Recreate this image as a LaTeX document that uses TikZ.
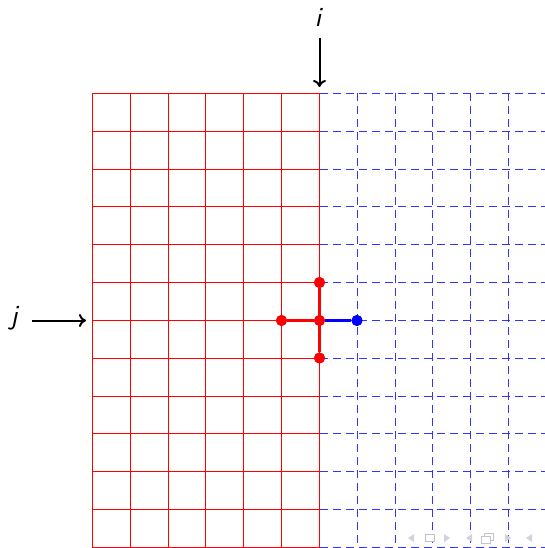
\documentclass[tikz,border=0pt]{standalone}
\usetikzlibrary{arrows.meta}
\begin{document}
\begin{tikzpicture}[x=1bp,y=-1bp,
  redgrid/.style={red,line width=1.4bp},
  bluegrid/.style={blue!80!white,line width=1.4bp,dash pattern=on 8bp off 5bp},
  redpath/.style={red,line width=2.7bp},
  bluepath/.style={blue,line width=2.7bp},
  reddot/.style={circle,fill=red,inner sep=0pt,minimum size=11bp},
  bluedot/.style={circle,fill=blue,inner sep=0pt,minimum size=11bp},
  lbl/.style={font=\fontsize{28}{30}\selectfont\sffamily\itshape,inner sep=0pt},
  arr/.style={-{To[length=7bp,width=13bp]},line width=2bp},
  nav/.style={fill=blue!20!gray!30,draw=none},
  navline/.style={draw=blue!20!gray!40,line width=1bp,fill=white}
]
\useasboundingbox (0,0) rectangle (545,548);
% red grid
\foreach \x in {92,130,168,205,243,281,319}{
  \draw[redgrid] (\x.5,93) -- (\x.5,548);
}
\foreach \y in {93,131,169,206,244,282,320,358,396,433,471,509,547}{
  \draw[redgrid] (92,\y.5) -- (320,\y.5);
}
% blue dashed grid
\foreach \x in {357,395,432,470,508}{
  \draw[bluegrid] (\x.5,93) -- (\x.5,548);
}
\foreach \y in {93,131,169,206,244,282,320,358,396,433,471,509,547}{
  \draw[bluegrid] (320,\y.5) -- (550,\y.5);
}
% dots
\node[reddot] (up) at (319.5,282.5) {};
\node[reddot] (lf) at (281.5,320.5) {};
\node[reddot] (c) at (319.5,320.5) {};
\node[reddot] (dn) at (319.5,358) {};
\node[bluedot] (rt) at (357,320.5) {};
\draw[bluepath] (c) -- (rt);
\draw[redpath] (lf) -- (c);
\draw[redpath] (up) -- (dn);
\node[reddot] at (up) {};
\node[reddot] at (lf) {};
\node[reddot] at (c) {};
\node[reddot] at (dn) {};
\node[bluedot] at (rt) {};
% labels and arrows
\node[lbl] (i) at (318,17) {i};
\coordinate (itop) at (319.5,38);
\coordinate (ibot) at (319.5,87);
\draw[arr] (itop) -- (ibot);
\node[lbl] (j) at (14,318) {j};
\coordinate (jl) at (32,320.5);
\coordinate (jr) at (86,320.5);
\draw[arr] (jl) -- (jr);
% navigation symbols (faint)
\fill[nav] (408,538) -- (414,534) -- (414,542) -- cycle;
\draw[navline] (425.5,534.5) rectangle (434.5,541.5);
\fill[nav] (450,538) -- (444,534) -- (444,542) -- cycle;
\fill[nav] (466,538) -- (472,534) -- (472,542) -- cycle;
\draw[navline] (484.5,533.5) rectangle (493.5,540.5);
\draw[navline] (481.5,536.5) rectangle (490.5,543.5);
\fill[nav] (511,538) -- (505,534) -- (505,542) -- cycle;
\fill[nav] (526,538) -- (532,534) -- (532,542) -- cycle;
\end{tikzpicture}
\end{document}
